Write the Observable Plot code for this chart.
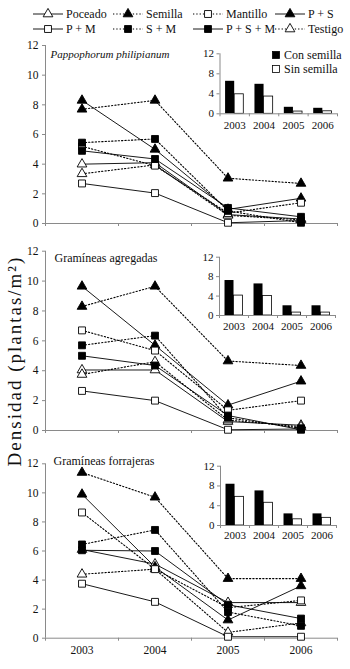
<!DOCTYPE html>
<html><head><meta charset="utf-8">
<script src="https://cdn.jsdelivr.net/npm/d3@7"></script>
<script src="https://cdn.jsdelivr.net/npm/@observablehq/plot@0.6"></script>
<style>
body{margin:0;background:#fff;}
#root{position:relative;width:350px;height:669px;font-family:"Liberation Serif","DejaVu Serif",serif;color:#111;overflow:hidden;background:#fff}
.abs{position:absolute}
.abs svg text{font-family:"Liberation Serif","DejaVu Serif",serif}
.leg{position:absolute;display:flex;align-items:center;font-size:11.5px;white-space:nowrap;height:14px}
.leg svg{display:block;margin-right:3px}
</style></head><body><div id="root"></div>
<script>
// ---------- data ----------
const years = [2003, 2004, 2005, 2006];
const seriesNames = ["Poceado", "Semilla", "Mantillo", "P + S", "P + M", "S + M", "P + S + M", "Testigo"];
// rows follow seriesNames, columns follow years
const pappophorumValues = [
  [4.0, 4.1, 0.6, 0.3],
  [7.7, 8.3, 3.05, 2.7],
  [5.2, 3.9, 0.7, 1.4],
  [8.3, 5.0, 0.95, 1.7],
  [2.7, 2.05, 0.05, 0.2],
  [5.45, 5.7, 0.85, 0.05],
  [4.9, 4.35, 1.05, 0.45],
  [3.35, 3.95, 0.55, 0.25]
];
const agregadasValues = [
  [4.05, 4.05, 0.6, 0.35],
  [8.3, 9.65, 4.65, 4.35],
  [6.7, 5.35, 1.35, 2.0],
  [9.65, 5.7, 1.7, 3.3],
  [2.65, 2.0, 0.05, 0.1],
  [5.7, 6.35, 0.85, 0.15],
  [5.0, 4.35, 1.0, 0.05],
  [3.75, 4.6, 0.7, 0.25]
];
const forrajerasValues = [
  [6.1, 5.1, 2.45, 2.45],
  [11.4, 9.7, 4.1, 4.1],
  [8.65, 4.75, 2.1, 2.6],
  [9.9, 4.9, 1.25, 3.6],
  [3.75, 2.5, 0.1, 0.1],
  [6.45, 7.45, 1.8, 0.85],
  [6.05, 6.0, 2.3, 1.35],
  [4.4, 4.75, 0.4, 1.05]
];
const insetGroups = ["Con semilla", "Sin semilla"];
const pappophorumCon = [6.5, 5.9, 1.3, 1.1];
const pappophorumSin = [3.9, 3.45, 0.45, 0.5];
const agregadasCon = [7.2, 6.5, 2.0, 2.0];
const agregadasSin = [4.1, 4.0, 0.6, 0.6];
const forrajerasCon = [8.35, 7.0, 2.35, 2.35];
const forrajerasSin = [5.8, 4.6, 1.25, 1.55];
const panelTitles = ["Pappophorum philipianum", "Gramíneas agregadas", "Gramíneas forrajeras"];
const yTicks = [0, 2, 4, 6, 8, 10, 12];
const insetYTicks = [0, 4, 8, 12];
const yLabel = "Densidad (plantas/m²)";

// ---------- styles ----------
const seriesStyle = {
  "Poceado":   {dotted: false, symbol: "triangle", filled: false},
  "Semilla":   {dotted: true,  symbol: "triangle", filled: true},
  "Mantillo":  {dotted: true,  symbol: "square",   filled: false},
  "P + S":     {dotted: false, symbol: "triangle", filled: true},
  "P + M":     {dotted: false, symbol: "square",   filled: false},
  "S + M":     {dotted: true,  symbol: "square",   filled: true},
  "P + S + M": {dotted: false, symbol: "square",   filled: true},
  "Testigo":   {dotted: true,  symbol: "triangle", filled: false}
};
const FONT = '"Liberation Serif","DejaVu Serif",serif';
const AXIS = "#8a8a8a";
const DASH = "1.3,2";
const R = {triangle: 3.6, square: 3.9};
const root = document.getElementById("root");

function place(el, left, top) {
  const d = document.createElement("div");
  d.className = "abs"; d.style.left = left + "px"; d.style.top = top + "px";
  d.appendChild(el); root.appendChild(d); return d;
}

const xDomain = [years[0] - 0.5, years[years.length - 1] + 0.5];
const boundaries = d3.range(years.length + 1).map(i => xDomain[0] + i);
const svgStyle = size => `font-family:${FONT};font-size:${size}px;background:transparent;overflow:visible;color:#111;`;

function mainPanel(values, title, o) {
  const data = [];
  seriesNames.forEach((s, i) => years.forEach((yr, j) => data.push({series: s, year: yr, value: values[i][j]})));
  const st = d => seriesStyle[d.series];
  const dots = [];
  for (const sym of ["triangle", "square"]) for (const filled of [false, true]) {
    dots.push(Plot.dot(data.filter(d => st(d).symbol === sym && st(d).filled === filled), {
      x: "year", y: "value", symbol: sym, r: R[sym],
      fill: filled ? "black" : "white", stroke: "black", strokeWidth: 0.9
    }));
  }
  return Plot.plot({
    width: 350, height: o.height, marginLeft: 45, marginRight: 13, marginTop: o.mt, marginBottom: o.mb,
    style: svgStyle(11.5),
    x: {domain: xDomain, axis: null},
    y: {domain: [0, 12], axis: null},
    marks: [
      Plot.ruleX([xDomain[0]], {y1: 0, y2: 12, stroke: AXIS}),
      Plot.ruleY([0], {stroke: AXIS}),
      Plot.axisY(yTicks, {anchor: "left", tickSize: 3, tickPadding: 4, stroke: AXIS, fill: "#111", label: null, fontSize: 11.5, fontFamily: FONT}),
      Plot.axisX(boundaries, {anchor: "bottom", tickSize: 3, tickFormat: () => "", stroke: AXIS, label: null}),
      o.showX ? Plot.axisX(years, {anchor: "bottom", tickSize: 0, tickPadding: 8, tickFormat: d => String(d), label: null, fill: "#111", fontSize: 11.5, fontFamily: FONT}) : null,
      Plot.line(data.filter(d => !st(d).dotted), {x: "year", y: "value", z: "series", stroke: "black", strokeWidth: 0.9}),
      Plot.line(data.filter(d => st(d).dotted), {x: "year", y: "value", z: "series", stroke: "black", strokeWidth: 1.1, strokeDasharray: DASH}),
      ...dots,
      Plot.text([title], {frameAnchor: "top-left", dx: o.tdx, dy: o.tdy, fontSize: o.italic ? 11 : 12, fontFamily: FONT, fontStyle: o.italic ? "italic" : "normal", fill: "#111"})
    ]
  });
}

function insetPanel(con, sin, o) {
  const data = years.map((yr, j) => ({year: yr, con: con[j], sin: sin[j]}));
  const bw = 0.31;
  return Plot.plot({
    width: 155, height: 90, marginLeft: o.ml, marginRight: o.mr, marginTop: o.mt, marginBottom: o.mb,
    style: svgStyle(11),
    x: {domain: xDomain, axis: null},
    y: {domain: [0, 12], axis: null},
    marks: [
      Plot.rectY(data, {x1: d => d.year - bw, x2: d => d.year, y1: 0, y2: "con", fill: "black"}),
      Plot.rectY(data, {x1: d => d.year, x2: d => d.year + bw, y1: 0, y2: "sin", fill: "white", stroke: "black", strokeWidth: 0.8}),
      Plot.ruleX([xDomain[0]], {y1: 0, y2: 12, stroke: AXIS}),
      Plot.ruleY([0], {stroke: AXIS}),
      Plot.axisY(insetYTicks, {anchor: "left", tickSize: 3, tickPadding: 3, stroke: AXIS, fill: "#111", label: null, fontSize: 11, fontFamily: FONT}),
      Plot.axisX(boundaries, {anchor: "bottom", tickSize: 3, tickFormat: () => "", stroke: AXIS, label: null}),
      Plot.axisX(years, {anchor: "bottom", tickSize: 0, tickPadding: o.tp, tickFormat: d => String(d), label: null, fill: "#111", fontSize: 11, fontFamily: FONT})
    ]
  });
}

// main panels
place(mainPanel(pappophorumValues, panelTitles[0], {height: 200, mt: 10, mb: 12, showX: false, tdx: 5, tdy: 5, italic: true}), 0, 35);
place(mainPanel(agregadasValues, panelTitles[1], {height: 200, mt: 10.7, mb: 10, showX: false, tdx: 9, tdy: 2, italic: false}), 0, 240);
place(mainPanel(forrajerasValues, panelTitles[2], {height: 219, mt: 13.3, mb: 31.3, showX: true, tdx: 8, tdy: -7, italic: false}), 0, 450);

// insets
place(insetPanel(pappophorumCon, pappophorumSin, {ml: 29.5, mr: 8, mt: 8.3, mb: 21.7, tp: 7}), 190, 45);
place(insetPanel(agregadasCon, agregadasSin, {ml: 29, mr: 10, mt: 8.7, mb: 23, tp: 7}), 190, 248);
place(insetPanel(forrajerasCon, forrajerasSin, {ml: 30, mr: 9, mt: 8.7, mb: 22, tp: 6}), 190, 457);

// inset legend (first panel)
insetGroups.forEach((g, i) => {
  const div = document.createElement("div");
  div.className = "leg";
  div.style.fontSize = "12px";
  const sq = document.createElementNS("http://www.w3.org/2000/svg", "svg");
  sq.setAttribute("width", 9); sq.setAttribute("height", 9);
  const r = document.createElementNS("http://www.w3.org/2000/svg", "rect");
  r.setAttribute("x", 0.5); r.setAttribute("y", 0.5); r.setAttribute("width", 7); r.setAttribute("height", 7);
  r.setAttribute("fill", i === 0 ? "black" : "white"); r.setAttribute("stroke", "black"); r.setAttribute("stroke-width", 0.8);
  sq.appendChild(r); div.appendChild(sq);
  const t = document.createElement("span"); t.textContent = g; div.appendChild(t);
  div.style.left = "272px"; div.style.top = (48 + i * 14) + "px";
  root.appendChild(div);
});

// main legend
const legCols = [33, 113, 193, 275];
const legRows = [7, 22];
seriesNames.forEach((s, i) => {
  const st = seriesStyle[s];
  const div = document.createElement("div");
  div.className = "leg";
  div.style.left = legCols[i % 4] + "px";
  div.style.top = legRows[Math.floor(i / 4)] + "px";
  div.style.fontSize = "12px";
  const svg = d3.create("svg").attr("width", 30).attr("height", 12);
  svg.append("line").attr("x1", 0).attr("x2", 30).attr("y1", 6).attr("y2", 6)
    .attr("stroke", "black").attr("stroke-width", st.dotted ? 1.1 : 0.9)
    .attr("stroke-dasharray", st.dotted ? DASH : null);
  const sym = st.symbol === "triangle" ? d3.symbolTriangle : d3.symbolSquare;
  svg.append("path").attr("d", d3.symbol(sym, Math.PI * R[st.symbol] ** 2)())
    .attr("transform", "translate(15,6)")
    .attr("fill", st.filled ? "black" : "white").attr("stroke", "black").attr("stroke-width", 0.9);
  div.appendChild(svg.node());
  const t = document.createElement("span"); t.textContent = s; div.appendChild(t);
  root.appendChild(div);
});

// y label
const yl = document.createElement("div");
yl.textContent = yLabel;
yl.style.cssText = `position:absolute;left:15px;top:361px;transform:translate(-50%,-50%) rotate(-90deg);font-size:19px;white-space:nowrap;font-family:${FONT};letter-spacing:2px`;
root.appendChild(yl);
</script></body></html>
